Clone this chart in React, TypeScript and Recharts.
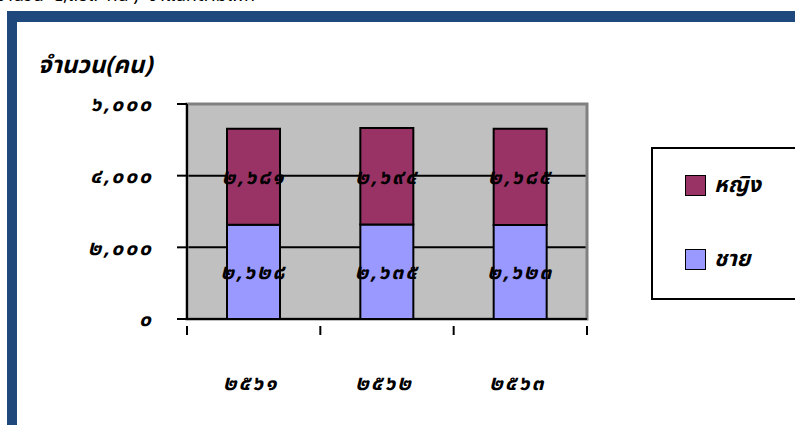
import React from "react";
import { BarChart, Bar, XAxis, YAxis, CartesianGrid, LabelList, ReferenceArea } from "recharts";

const years = ["2561", "2562", "2563"];
const male = [2628, 2635, 2623];
const female = [2681, 2694, 2685];
const yTicks = [0, 2000, 4000, 6000];

const seriesNames = { female: "หญิง", male: "ชาย" };
const colors = { female: "#993366", male: "#9999FF" };

const data = years.map((y, i) => ({ year: y, male: male[i], female: female[i] }));

const thaiDigits = "๐๑๒๓๔๕๖๗๘๙";
const toThai = (s: string) => s.replace(/[0-9]/g, (d) => thaiDigits[Number(d)]);
const fmt = (v: number) => toThai(v.toLocaleString("en-US"));

const FONT = "'Noto Sans Thai', 'Noto Sans', 'DejaVu Sans', sans-serif";

const PLOT_LEFT = 187;
const PLOT_RIGHT = 587;
const BAND = (PLOT_RIGHT - PLOT_LEFT) / years.length;

const numStyle = { fontFamily: FONT, fontSize: 21, fontWeight: "bold" as const, fontStyle: "italic" as const, letterSpacing: 2 };

const XTick = (props: any) => {
  const { x, y, payload, index } = props;
  const half = BAND / 2;
  return (
    <g>
      <line x1={x - half} y1={y - 1} x2={x - half} y2={y + 8} stroke="#000" strokeWidth={2} />
      {index === years.length - 1 && (
        <line x1={x + half} y1={y - 1} x2={x + half} y2={y + 8} stroke="#000" strokeWidth={2} />
      )}
      <text x={x - 3} y={y + 63} textAnchor="middle" fill="#000" style={numStyle}>
        {toThai(payload.value)}
      </text>
    </g>
  );
};

const LegendBox = () => (
  <div
    style={{
      position: "absolute",
      left: 651,
      top: 147,
      width: 160,
      height: 153,
      border: "2px solid #000",
      background: "#fff",
      boxSizing: "border-box",
      fontFamily: FONT,
      fontWeight: "bold",
      fontStyle: "italic",
      fontSize: 22,
    }}
  >
    {(["female", "male"] as const).map((k, i) => (
      <div key={k} style={{ position: "absolute", left: 32, top: 20 + i * 74, display: "flex", alignItems: "center" }}>
        <span style={{ display: "inline-block", width: 19, height: 19, background: colors[k], border: "1.5px solid #000", marginRight: 8 }} />
        <span>{seriesNames[k]}</span>
      </div>
    ))}
  </div>
);

export default function App() {
  return (
    <div style={{ position: "absolute", left: 0, top: 0, width: 795, height: 425, overflow: "hidden", background: "#fff" }}>
      <div
        style={{
          position: "absolute",
          left: -4,
          top: -18,
          fontFamily: FONT,
          fontSize: 18,
          whiteSpace: "pre",
          color: "#000",
        }}
      >
        {"จำนวน  ๕,๓๐๙  คน )  จำแนกตามเพศ"}
      </div>
      <div
        style={{
          position: "absolute",
          left: 7,
          top: 11,
          width: 820,
          height: 430,
          border: "10px solid #1F497D",
          borderTopWidth: 11,
          boxSizing: "border-box",
        }}
      />
      <div
        style={{
          position: "absolute",
          left: 38,
          top: 48,
          fontFamily: FONT,
          fontSize: 24,
          fontWeight: "bold",
          fontStyle: "italic",
          color: "#000",
        }}
      >
        จำนวน(คน)
      </div>
      <div style={{ position: "absolute", left: 0, top: 0 }}>
        <BarChart
          width={795}
          height={425}
          data={data}
          margin={{ top: 104, right: 208, bottom: 36, left: 107 }}
          barCategoryGap="30%"
        >
          <CartesianGrid vertical={false} stroke="#000" strokeWidth={2} fill="#C0C0C0" fillOpacity={1} />
          <ReferenceArea y1={0} y2={6000} fill="none" stroke="#808080" strokeWidth={3} ifOverflow="visible" />
          <XAxis
            dataKey="year"
            height={70}
            tickLine={false}
            axisLine={{ stroke: "#000", strokeWidth: 2 }}
            tick={<XTick />}
            interval={0}
          />
          <YAxis
            width={80}
            domain={[0, 6000]}
            ticks={yTicks}
            tickSize={10}
            tickMargin={24}
            axisLine={{ stroke: "#000", strokeWidth: 2 }}
            tickLine={{ stroke: "#000", strokeWidth: 2 }}
            tickFormatter={(v: number) => fmt(v)}
            tick={{ ...numStyle, fill: "#000" }}
          />
          <Bar dataKey="male" stackId="a" fill={colors.male} stroke="#000" strokeWidth={2} isAnimationActive={false} name={seriesNames.male}>
            <LabelList
              dataKey="male"
              position="center"
              formatter={(v: any) => fmt(Number(v))}
              style={{ ...numStyle, fill: "#000", stroke: "none" }}
            />
          </Bar>
          <Bar dataKey="female" stackId="a" fill={colors.female} stroke="#000" strokeWidth={2} isAnimationActive={false} name={seriesNames.female}>
            <LabelList
              dataKey="female"
              position="center"
              formatter={(v: any) => fmt(Number(v))}
              style={{ ...numStyle, fill: "#000", stroke: "none" }}
            />
          </Bar>
        </BarChart>
      </div>
      <LegendBox />
    </div>
  );
}
